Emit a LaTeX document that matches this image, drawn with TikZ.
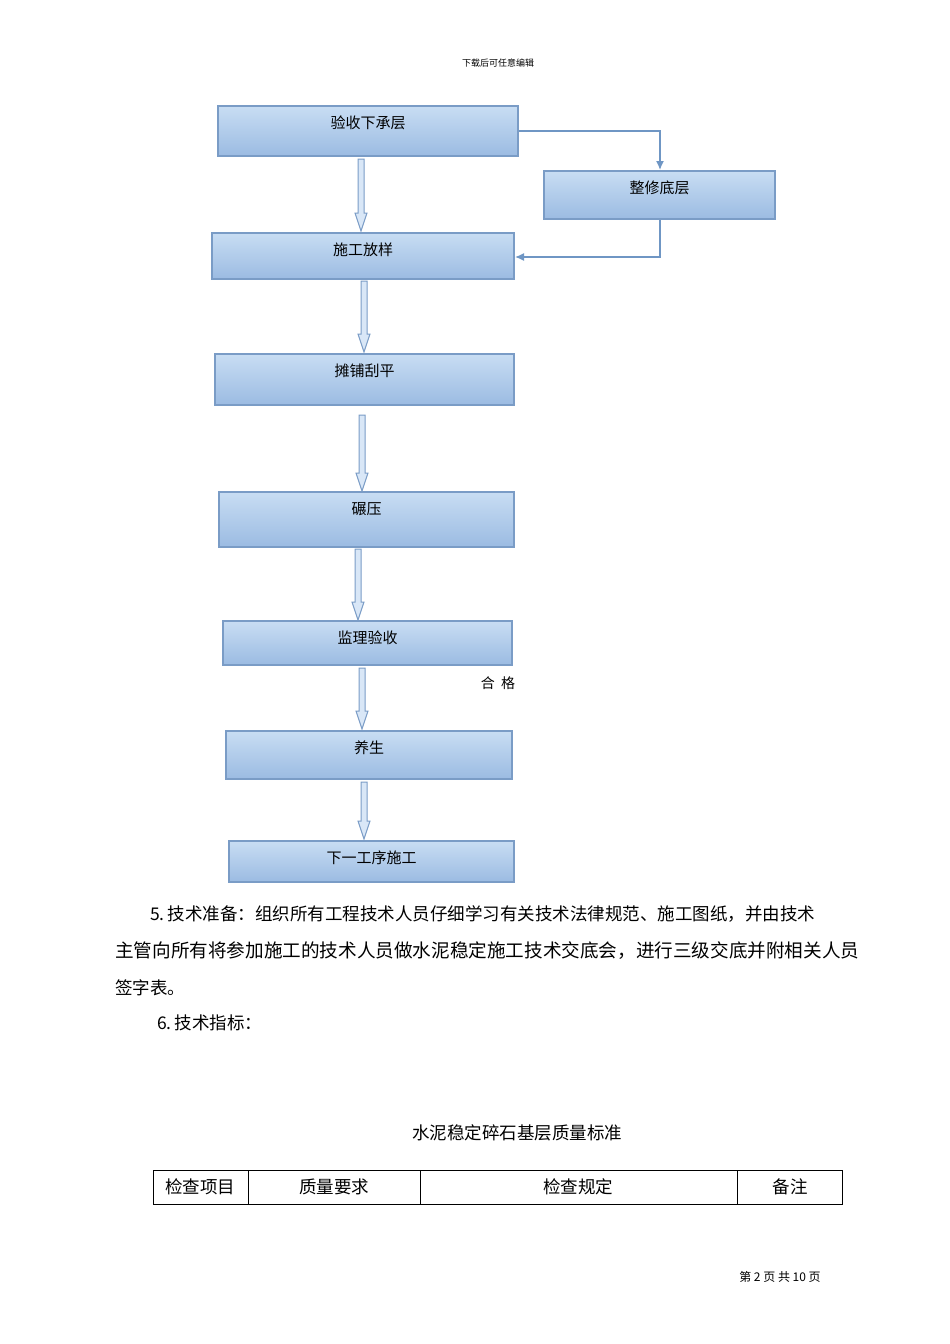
\documentclass[tikz,border=0pt]{standalone}
\usepackage{fontspec}
\setmainfont{Noto Sans CJK SC}
\usetikzlibrary{arrows.meta}
\definecolor{bt}{HTML}{C8DDF3}
\definecolor{bb}{HTML}{9BBBE2}
\definecolor{bd}{HTML}{7A9CC6}
\definecolor{ln}{HTML}{6F96C4}
\begin{document}
\begin{tikzpicture}[x=1pt,y=-1pt,
  fbox/.style={draw=bd,line width=1.6pt,top color=bt,bottom color=bb},
  btxt/.style={font=\fontsize{15}{15}\selectfont,inner sep=0pt},
  ptxt/.style={font=\fontsize{17.5}{18}\selectfont,inner sep=0pt,anchor=west},
  conn/.style={draw=ln,line width=1.4pt,-{Latex[length=9pt,width=8pt]}}]
\useasboundingbox (0,0) rectangle (950,1344);
\newcommand{\fbx}[6]{%
  \path[fbox] (#2,#3) rectangle (#4,#5);
  \coordinate (#1) at ({(#2+#4)/2},{(#3+#5)/2});
  \node[btxt] (#1t) at ({(#2+#4)/2},{#3+17}) {#6};}
\newcommand{\barrow}[3]{%
  \path[draw=bd,fill=bt!70!white,line width=1pt] (#1-3,#2) -- (#1+3,#2) -- (#1+3,#3-18) -- (#1+6,#3-18) -- (#1,#3) -- (#1-6,#3-18) -- (#1-3,#3-18) -- cycle;}
\node[font=\fontsize{9}{9}\selectfont] (hdr) at (498,63) {下载后可任意编辑};
\fbx{a}{218}{106}{518}{156}{验收下承层}
\fbx{z}{544}{171}{775}{219}{整修底层}
\fbx{b}{212}{233}{514}{279}{施工放样}
\fbx{c}{215}{354}{514}{405}{摊铺刮平}
\fbx{d}{219}{492}{514}{547}{碾压}
\fbx{e}{223}{621}{512}{665}{监理验收}
\fbx{f}{226}{731}{512}{779}{养生}
\fbx{g}{229}{841}{514}{882}{下一工序施工}
\barrow{361}{159}{231}
\barrow{364}{281}{352}
\barrow{362}{415}{491}
\barrow{358}{549}{620}
\barrow{362}{668}{729}
\barrow{364}{782}{839}
\coordinate (ar) at (519,131);
\coordinate (zt) at (660,170);
\coordinate (zb) at (660,220);
\coordinate (br) at (515,257);
\draw[conn] (ar) -| (zt);
\draw[conn] (zb) |- (br);
\node[font=\fontsize{14}{14}\selectfont] (hg) at (498,683) {合\ \ 格};
\node[ptxt] (p1) at (150,914) {5.\,技术准备：组织所有工程技术人员仔细学习有关技术法律规范、施工图纸，并由技术};
\node[ptxt,font=\fontsize{18.6}{19}\selectfont] (p2) at (115,951) {主管向所有将参加施工的技术人员做水泥稳定施工技术交底会，进行三级交底并附相关人员};
\node[ptxt] (p3) at (115,988) {签字表。};
\node[ptxt] (p4) at (157,1023) {6.\,技术指标：};
\node[font=\fontsize{17.5}{18}\selectfont] (tt) at (517,1133) {水泥稳定碎石基层质量标准};
\draw[line width=0.8pt] (153,1170) rectangle (842,1204);
\draw[line width=0.8pt] (248,1170) -- (248,1204) (420,1170) -- (420,1204) (737,1170) -- (737,1204);
\node[font=\fontsize{17.5}{18}\selectfont] (h1) at (200,1187) {检查项目};
\node[font=\fontsize{17.5}{18}\selectfont] (h2) at (334,1187) {质量要求};
\node[font=\fontsize{17.5}{18}\selectfont] (h3) at (578,1187) {检查规定};
\node[font=\fontsize{17.5}{18}\selectfont] (h4) at (790,1187) {备注};
\node[font=\fontsize{12}{12}\selectfont] (ft) at (780,1277) {第 2 页 共 10 页};
\end{tikzpicture}
\end{document}
